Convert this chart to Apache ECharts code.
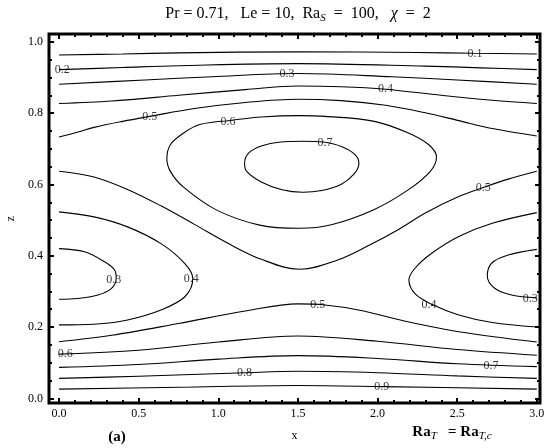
<!DOCTYPE html>
<html>
<head>
<meta charset="utf-8">
<script src="https://cdn.jsdelivr.net/npm/echarts@6/dist/echarts.min.js"></script>
<style>html,body{margin:0;padding:0;background:#fff}#c{width:547px;height:448px}</style>
</head>
<body>
<div id="c"></div>
<script>
// ---- tick values ----
const xMajorTicks = [0, 0.5, 1.0, 1.5, 2.0, 2.5, 3.0];
const xMinorTicks = [0,0.1,0.2,0.3,0.4,0.5,0.6,0.7,0.8,0.9,1.0,1.1,1.2,1.3,1.4,1.5,1.6,1.7,1.8,1.9,2.0,2.1,2.2,2.3,2.4,2.5,2.6,2.7,2.8,2.9,3.0];
const zMajorTicks = [0, 0.2, 0.4, 0.6, 0.8, 1.0];
const zMinorTicks = [0,0.05,0.1,0.15,0.2,0.25,0.3,0.35,0.4,0.45,0.5,0.55,0.6,0.65,0.7,0.75,0.8,0.85,0.9,0.95,1.0];

// ---- contour lines [x, z] ----
const c01 = [[0,0.963],[0.4,0.966],[0.75,0.969],[1.5,0.972],[2.25,0.970],[2.6,0.968],[3,0.966]];
const c02 = [[0,0.922],[0.4,0.928],[0.75,0.933],[1.5,0.939],[2.3,0.932],[2.65,0.927],[3,0.922]];
const c03 = [[0,0.881],[0.54,0.893],[0.96,0.902],[1.5,0.911],[2.09,0.902],[2.5,0.893],[3,0.881]];
const c04 = [[0,0.827],[0.33,0.834],[0.75,0.850],[1.17,0.866],[1.5,0.876],[1.77,0.874],[2.05,0.867],[2.4,0.850],[2.72,0.836],[3,0.827]];
const c05Top = [[0,0.733],[0.12,0.747],[0.22,0.760],[0.4,0.777],[0.57,0.791],[0.85,0.813],[1.17,0.830],[1.5,0.839],[1.77,0.835],[2.05,0.822],[2.3,0.801],[2.51,0.779],[2.72,0.757],[3,0.736]];
const c06Loop = [[1.05,0.778],[1.27,0.789],[1.51,0.793],[1.67,0.791],[1.98,0.777],[2.19,0.745],[2.32,0.712],[2.37,0.677],[2.33,0.636],[2.19,0.584],[1.98,0.530],[1.71,0.487],[1.51,0.477],[1.26,0.486],[0.99,0.528],[0.78,0.593],[0.70,0.636],[0.677,0.673],[0.70,0.712],[0.778,0.743],[0.883,0.768],[1.05,0.778]];
const c07Loop = [[1.53,0.721],[1.66,0.719],[1.78,0.705],[1.86,0.683],[1.883,0.659],[1.85,0.628],[1.77,0.600],[1.65,0.583],[1.53,0.578],[1.40,0.585],[1.27,0.607],[1.18,0.636],[1.165,0.659],[1.19,0.688],[1.27,0.708],[1.39,0.719],[1.53,0.721]];
const c05Saddle = [[0,0.637],[0.22,0.621],[0.43,0.586],[0.64,0.540],[0.85,0.488],[1.06,0.435],[1.27,0.390],[1.51,0.362],[1.75,0.388],[1.95,0.430],[2.14,0.476],[2.30,0.520],[2.51,0.566],[2.66,0.591],[2.82,0.615],[3,0.637]];
const c04LeftLobe = [[0,0.523],[0.22,0.509],[0.43,0.481],[0.64,0.434],[0.79,0.378],[0.84,0.336],[0.79,0.285],[0.64,0.248],[0.43,0.220],[0.22,0.208],[0,0.206]];
const c03LeftLobe = [[0,0.420],[0.16,0.411],[0.286,0.383],[0.349,0.360],[0.359,0.336],[0.328,0.308],[0.244,0.290],[0.118,0.280],[0,0.278]];
const c04RightLobe = [[3,0.521],[2.72,0.491],[2.51,0.454],[2.34,0.407],[2.235,0.365],[2.197,0.332],[2.235,0.294],[2.34,0.264],[2.51,0.234],[2.72,0.213],[3,0.200]];
const c03RightLobe = [[3,0.418],[2.82,0.402],[2.716,0.379],[2.689,0.343],[2.737,0.308],[2.842,0.290],[3,0.282]];
const c05Bottom = [[0,0.159],[0.33,0.177],[0.75,0.210],[1.17,0.245],[1.5,0.265],[1.67,0.262],[1.88,0.248],[2.19,0.215],[2.51,0.187],[3,0.158]];
const c06Bottom = [[0,0.124],[0.5,0.135],[1.0,0.158],[1.5,0.175],[2.0,0.160],[2.5,0.137],[3,0.121]];
const c07Bottom = [[0,0.087],[0.5,0.095],[1.0,0.110],[1.5,0.120],[2.0,0.112],[2.5,0.097],[3,0.089]];
const c08Bottom = [[0,0.056],[0.5,0.062],[1.165,0.072],[1.5,0.076],[2.0,0.072],[2.5,0.063],[3,0.056]];
const c09Bottom = [[0,0.026],[0.75,0.031],[1.5,0.036],[2.03,0.033],[3,0.026]];

const contourLines = [c01,c02,c03,c04,c05Top,c06Loop,c07Loop,c05Saddle,c04LeftLobe,c03LeftLobe,c04RightLobe,c03RightLobe,c05Bottom,c06Bottom,c07Bottom,c08Bottom,c09Bottom];

// ---- contour labels [x, z, text] ----
const contourLabels = [
  [2.612,0.967,'0.1'],[0.02,0.922,'0.2'],[1.432,0.911,'0.3'],[2.05,0.867,'0.4'],
  [0.569,0.790,'0.5'],[1.061,0.777,'0.6'],[1.67,0.716,'0.7'],[2.664,0.591,'0.5'],
  [0.344,0.333,'0.3'],[0.83,0.336,'0.4'],[1.624,0.262,'0.5'],[2.323,0.262,'0.4'],
  [2.958,0.280,'0.3'],[0.039,0.124,'0.6'],[1.165,0.072,'0.8'],[2.712,0.091,'0.7'],
  [2.026,0.033,'0.9']
];

const SERIF = '"Liberation Serif","DejaVu Serif",serif';
const xMin = -0.063, xMax = 3.02, zMin = -0.013, zMax = 1.022;

function xAxisDef(pos, ticks, len, withLabel) {
  return {
    type: 'value', position: pos, min: xMin, max: xMax,
    axisLine: {show: false, onZero: false}, splitLine: {show: false},
    axisTick: {show: true, inside: true, length: len, customValues: ticks, lineStyle: {color: '#000', width: 2}},
    axisLabel: withLabel ? {show: true, customValues: ticks, formatter: v => v.toFixed(1), color: '#000', fontFamily: SERIF, fontSize: 12, margin: 5} : {show: false},
    name: withLabel ? 'x' : '', nameLocation: 'middle', nameGap: 27,
    nameTextStyle: {fontFamily: SERIF, fontSize: 12, color: '#000'}
  };
}
function yAxisDef(pos, ticks, len, withLabel) {
  return {
    type: 'value', position: pos, min: zMin, max: zMax,
    axisLine: {show: false, onZero: false}, splitLine: {show: false},
    axisTick: {show: true, inside: true, length: len, customValues: ticks, lineStyle: {color: '#000', width: 2}},
    axisLabel: withLabel ? {show: true, customValues: ticks, formatter: v => v.toFixed(1), color: '#000', fontFamily: SERIF, fontSize: 12, margin: 6} : {show: false},
    name: withLabel ? 'z' : '', nameLocation: 'middle', nameGap: 30, nameRotate: 90,
    nameTextStyle: {fontFamily: SERIF, fontSize: 12, color: '#000'}
  };
}

const series = contourLines.map(d => ({
  type: 'line', data: d, smooth: 0.35, showSymbol: false, symbol: 'none',
  xAxisIndex: 0, yAxisIndex: 0,
  lineStyle: {color: '#000', width: 1.1}, silent: true, z: 2
}));
series.push({
  type: 'scatter', xAxisIndex: 0, yAxisIndex: 0, symbolSize: 1,
  itemStyle: {color: 'rgba(0,0,0,0)'}, z: 5,
  data: contourLabels,
  label: {show: true, position: 'inside', formatter: p => p.data[2], color: '#000', fontFamily: SERIF, fontSize: 12}
});

const chart = echarts.init(document.getElementById('c'), null, {renderer: 'canvas'});
chart.setOption({
  backgroundColor: '#fff',
  animation: false,
  grid: {left: 49, right: 7, top: 34, bottom: 45, show: true, borderColor: '#000', borderWidth: 3, backgroundColor: 'transparent', containLabel: false, outerBoundsMode: 'none'},
  xAxis: [
    xAxisDef('bottom', xMajorTicks, 5, true),
    xAxisDef('bottom', xMinorTicks, 3, false),
    xAxisDef('top', xMajorTicks, 5, false),
    xAxisDef('top', xMinorTicks, 3, false)
  ],
  yAxis: [
    yAxisDef('left', zMajorTicks, 5, true),
    yAxisDef('left', zMinorTicks, 3, false),
    yAxisDef('right', zMajorTicks, 5, false),
    yAxisDef('right', zMinorTicks, 3, false)
  ],
  series: series,
  graphic: [
    {type: 'text', x: 298, y: 14, style: {
      text: '{n|Pr = 0.71,   Le = 10,  Ra}{s|S}{n|  =  100,   }{i|χ}{n|  =  2}',
      align: 'center', verticalAlign: 'middle',
      rich: {
        n: {fontFamily: SERIF, fontSize: 16, lineHeight: 20, fill: '#000'},
        s: {fontFamily: SERIF, fontSize: 11, fontStyle: 'italic', lineHeight: 20, verticalAlign: 'bottom', fill: '#000'},
        i: {fontFamily: SERIF, fontSize: 16, fontStyle: 'italic', lineHeight: 20, fill: '#000'}
      }
    }},
    {type: 'text', x: 117, y: 437, style: {text: '(a)', align: 'center', verticalAlign: 'middle', font: 'bold 15px ' + SERIF, fill: '#000'}},
    {type: 'text', x: 452, y: 432, style: {
      text: '{n|Ra}{s|T}{n|   = Ra}{s|T,c}',
      align: 'center', verticalAlign: 'middle',
      rich: {
        n: {fontFamily: SERIF, fontSize: 15, fontWeight: 'bold', lineHeight: 20, fill: '#000'},
        s: {fontFamily: SERIF, fontSize: 11, fontStyle: 'italic', lineHeight: 20, verticalAlign: 'bottom', fill: '#000'}
      }
    }}
  ]
});
</script>
</body>
</html>
